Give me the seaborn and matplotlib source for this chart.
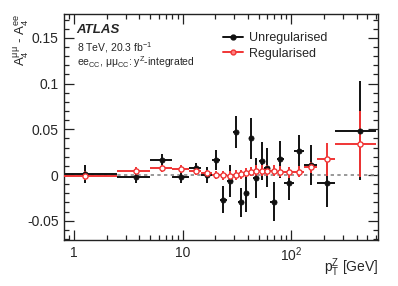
import numpy as np
import matplotlib
matplotlib.use("Agg")
import matplotlib.pyplot as plt
import seaborn as sns
from matplotlib.lines import Line2D
from matplotlib.ticker import FixedLocator, FixedFormatter, MultipleLocator, LogLocator, NullFormatter

# pT(Z) bin edges [GeV]
bin_edges = [0.0, 2.5, 5.0, 8.0, 11.4, 14.9, 18.5, 22.0, 25.5, 29.0, 32.6, 36.4,
             40.4, 44.9, 50.2, 56.4, 63.9, 73.4, 85.4, 105.0, 132.0, 173.0, 253.0, 600.0]

# A4(mumu) - A4(ee), unregularised
unreg_val = [0.001, -0.002, 0.016, -0.0025, 0.008, 0.0, 0.0164, -0.027, -0.0066, 0.047,
             -0.030, -0.020, 0.040, -0.003, 0.0153, 0.008, -0.029, 0.017, -0.009, 0.026,
             0.011, -0.0084, 0.0485]
unreg_err = [0.010, 0.007, 0.007, 0.006, 0.005, 0.009, 0.011, 0.0145, 0.017, 0.018,
             0.016, 0.020, 0.022, 0.022, 0.021, 0.021, 0.021, 0.020, 0.018, 0.018,
             0.022, 0.027, 0.054]

# regularised
reg_val = [-0.001, 0.0047, 0.0073, 0.0066, 0.0044, 0.0018, 0.0, -0.0004, -0.001, 0.0,
           0.0008, 0.0025, 0.0036, 0.0044, 0.0047, 0.0047, 0.0044, 0.0036, 0.0029, 0.0036,
           0.0084, 0.017, 0.0336]
reg_err = [0.005, 0.004, 0.004, 0.004, 0.004, 0.004, 0.004, 0.005, 0.005, 0.005,
           0.005, 0.005, 0.005, 0.006, 0.006, 0.006, 0.006, 0.006, 0.006, 0.006,
           0.006, 0.018, 0.036]

BLACK = "#111111"
RED = "#f03535"

sns.set_style("ticks")
plt.rcParams["font.family"] = ["Liberation Sans", "DejaVu Sans"]
plt.rcParams["mathtext.fontset"] = "custom"
plt.rcParams["mathtext.rm"] = "Liberation Sans"
plt.rcParams["mathtext.it"] = "Liberation Sans:italic"

edges = np.array(bin_edges)
lo = np.clip(edges[:-1], 0.5, None)
hi = edges[1:]
centers = 0.5 * (edges[:-1] + edges[1:])
xerr = [centers - lo, hi - centers]

fig = plt.figure(figsize=(3.98, 2.86), dpi=100)
ax = fig.add_axes([0.161, 0.161, 0.789, 0.790])

ax.axhline(0, color="#888888", ls=(0, (2, 2)), lw=1.2, zorder=1)

ax.errorbar(centers, unreg_val, yerr=unreg_err, xerr=xerr, fmt="none",
            ecolor=BLACK, elinewidth=1.4, capsize=0, zorder=2)
ax.errorbar(centers, reg_val, yerr=reg_err, xerr=xerr, fmt="none",
            ecolor=RED, elinewidth=1.4, capsize=0, zorder=3)
sns.scatterplot(x=centers, y=unreg_val, ax=ax, color=BLACK, s=14,
                edgecolor=BLACK, linewidth=0.5, zorder=4)
sns.scatterplot(x=centers, y=reg_val, ax=ax, color="white", s=14,
                edgecolor=RED, linewidth=1.0, zorder=5)

ax.set_xscale("log")
ax.set_xlim(0.81, 630)
ax.set_ylim(-0.071, 0.176)

ax.xaxis.set_major_locator(FixedLocator([1, 10, 100]))
ax.xaxis.set_major_formatter(FixedFormatter(["1", "10", "10$^2$"]))
ax.xaxis.set_minor_locator(LogLocator(base=10, subs=np.arange(2, 10)))
ax.xaxis.set_minor_formatter(NullFormatter())
ax.yaxis.set_major_locator(FixedLocator([-0.05, 0, 0.05, 0.1, 0.15]))
ax.yaxis.set_major_formatter(FixedFormatter(["-0.05", "0", "0.05", "0.1", "0.15"]))
ax.yaxis.set_minor_locator(MultipleLocator(0.01))

ax.tick_params(which="both", direction="in", top=True, right=True,
               labelsize=10, width=0.9, color="#222222")
ax.tick_params(which="major", length=7, pad=4)
ax.tick_params(which="minor", length=3.5)
for sp in ax.spines.values():
    sp.set_linewidth(1.0)
    sp.set_color("#222222")

# axis titles placed ROOT-style
fig.text(378 / 398, 1 - 279 / 286, "p$_\\mathrm{T}^\\mathrm{Z}$ [GeV]",
         ha="right", va="bottom", fontsize=10)
fig.text(21 / 398, 1 - 13 / 286, "A$_4^{\\mathrm{μμ}}$ - A$_4^{\\mathrm{ee}}$",
         rotation=90, ha="center", va="top", fontsize=9.5)

ax.text(0.04, 0.93, "ATLAS", transform=ax.transAxes, fontsize=9.5,
        fontweight="bold", fontstyle="italic", va="center")
ax.text(0.04, 0.85, "8 TeV, 20.3 fb$^{-1}$", transform=ax.transAxes,
        fontsize=7.5, va="center")
ax.text(0.04, 0.785, "ee$_{\\mathrm{CC}}$, μμ$_{\\mathrm{CC}}$: y$^\\mathrm{Z}$-integrated",
        transform=ax.transAxes, fontsize=7.5, va="center")

handles = [
    Line2D([], [], color=BLACK, lw=1.4, marker="o", ms=3.5),
    Line2D([], [], color=RED, lw=1.4, marker="o", ms=3.5,
           markerfacecolor="#ff8080", markeredgecolor=RED),
]
ax.legend(handles, ["Unregularised", "Regularised"], loc="upper right",
          bbox_to_anchor=(0.875, 0.97), frameon=False, fontsize=9,
          handlelength=1.6, handletextpad=0.5, labelspacing=0.3)

fig.savefig("out.png", dpi=100)
